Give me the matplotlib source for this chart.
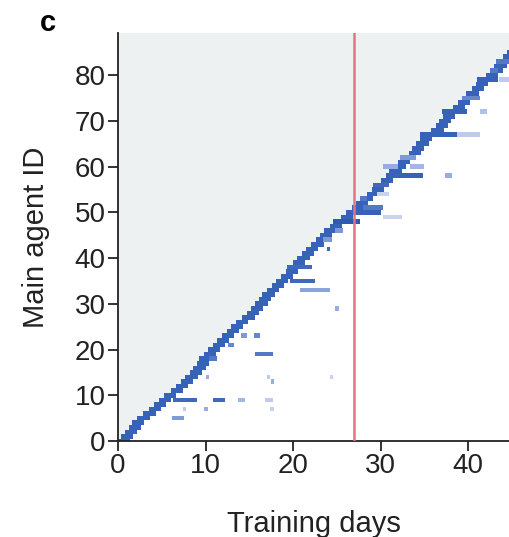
"""Main agent activity over training days (panel c)."""

import matplotlib

matplotlib.use("Agg")
import matplotlib.pyplot as plt
import numpy as np
from matplotlib.colors import LinearSegmentedColormap

plt.rcParams["font.family"] = ["Liberation Sans", "DejaVu Sans"]

# day on which each main agent appears (agent id = index)
creation_days = [
    0.0, 0.3, 0.8, 1.2, 1.6, 2.2, 2.9, 3.5, 4.1, 4.7,
    5.2, 6.0, 6.6, 7.2, 7.7, 8.2, 8.6, 9.0, 9.3, 9.8,
    10.3, 10.8, 11.3, 11.9, 12.4, 12.9, 13.5, 14.2, 14.7, 15.2,
    15.7, 16.1, 16.5, 17.0, 17.6, 18.0, 18.6, 19.2, 19.4, 20.0,
    20.5, 21.0, 21.5, 22.1, 22.6, 23.1, 23.5, 24.2, 24.7, 25.5,
    26.0, 26.7, 27.2, 27.7, 28.4, 29.0, 29.4, 30.0, 30.6, 31.0,
    31.5, 32.0, 32.6, 33.2, 33.6, 34.1, 34.5, 35.2, 35.8, 36.3,
    36.7, 37.1, 37.8, 38.3, 38.8, 39.3, 39.8, 40.4, 40.9, 41.4,
    42.0, 42.6, 43.0, 43.4, 44.0, 44.4, 44.8, 45.3, 45.8,
]

# later streaks: agent id, start day, end day, intensity (0-1)
seg_agent = [9, 9, 9, 9, 5, 7, 7, 7, 14, 14, 13, 18, 19, 21, 23, 23,
             29, 33, 35, 38, 42, 44, 46, 14, 48, 50, 51, 49, 53, 54,
             56, 58, 58, 60, 60, 62, 67, 67, 72, 72, 75, 79, 79, 81, 83]
seg_start = [6.3, 10.9, 13.7, 16.8, 6.2, 7.4, 9.8, 17.4, 10.0, 17.0, 17.5,
             10.4, 15.7, 12.6, 14.1, 15.5, 24.8, 20.8, 19.7, 19.3, 23.9,
             23.4, 24.8, 24.2, 24.6, 26.2, 28.0, 30.3, 27.7, 29.6, 29.1,
             30.7, 37.4, 30.3, 33.4, 32.2, 34.5, 38.7, 37.0, 41.4, 39.3,
             41.0, 43.5, 42.5, 43.2]
seg_end = [9.0, 12.2, 14.5, 17.7, 7.5, 7.8, 10.3, 17.8, 10.4, 17.4, 17.8,
           11.3, 17.7, 13.2, 14.7, 16.2, 25.2, 24.2, 22.5, 22.2, 24.2,
           24.4, 25.7, 24.6, 27.7, 30.0, 30.3, 32.4, 28.5, 31.0, 31.0,
           34.9, 38.2, 32.0, 35.0, 34.0, 38.7, 41.4, 39.9, 42.2, 41.4,
           43.4, 45.0, 43.4, 45.0]
seg_level = [0.9, 0.9, 0.45, 0.35, 0.6, 0.35, 0.5, 0.3, 0.5, 0.35, 0.5,
             0.8, 0.8, 0.7, 0.6, 0.7, 0.5, 0.55, 0.9, 0.9, 0.9,
             0.6, 0.6, 0.3, 1.0, 0.95, 0.8, 0.3, 0.8, 0.3, 0.9,
             0.95, 0.5, 0.5, 0.45, 0.6, 0.95, 0.35, 0.95, 0.4, 0.7,
             0.95, 0.35, 0.8, 0.8]

red_line_day = 27

GRAY = "#eef1f1"
DIAG_SPAN = 1.4
cmap = LinearSegmentedColormap.from_list(
    "act", ["#ffffff", "#c3cdee", "#6d8cd2", "#2d5bb2"])

fig = plt.figure(figsize=(5.1, 5.37), dpi=100)
ax = fig.add_axes([0.2314, 0.1788, 0.7686, 0.7598])

agents = np.arange(len(creation_days))
ax.barh(agents, creation_days, height=1.0, left=0, color=GRAY, linewidth=0)
ax.axhspan(agents[-1] + 0.5, 100, color=GRAY, linewidth=0)

ax.barh(agents, DIAG_SPAN, height=1.0, left=creation_days,
        color=cmap(0.95), linewidth=0)

widths = np.array(seg_end) - np.array(seg_start)
ax.barh(seg_agent, widths, height=1.0, left=seg_start,
        color=cmap(np.array(seg_level)), linewidth=0)

ax.axvline(red_line_day, color="#e27485", lw=1.8, zorder=5)

ax.set_xlim(0, 44.8)
ax.set_ylim(0, 89.2)
ax.set_xticks([0, 10, 20, 30, 40])
ax.set_yticks(range(0, 81, 10))
ax.spines["top"].set_visible(False)
ax.spines["right"].set_visible(False)
for s in ("left", "bottom"):
    ax.spines[s].set_color("#222222")
    ax.spines[s].set_linewidth(1.3)
ax.tick_params(direction="out", length=7, width=1.3, color="#222222",
               labelsize=20, labelcolor="#222222", pad=2)
ax.set_xlabel("Training days", fontsize=21, color="#222222", labelpad=22)
ax.set_ylabel("Main agent ID", fontsize=21, color="#222222", labelpad=18)

fig.text(0.078, 0.957, "c", fontsize=21, fontweight="bold", ha="left",
         va="center")

fig.savefig("out.png", dpi=100)
